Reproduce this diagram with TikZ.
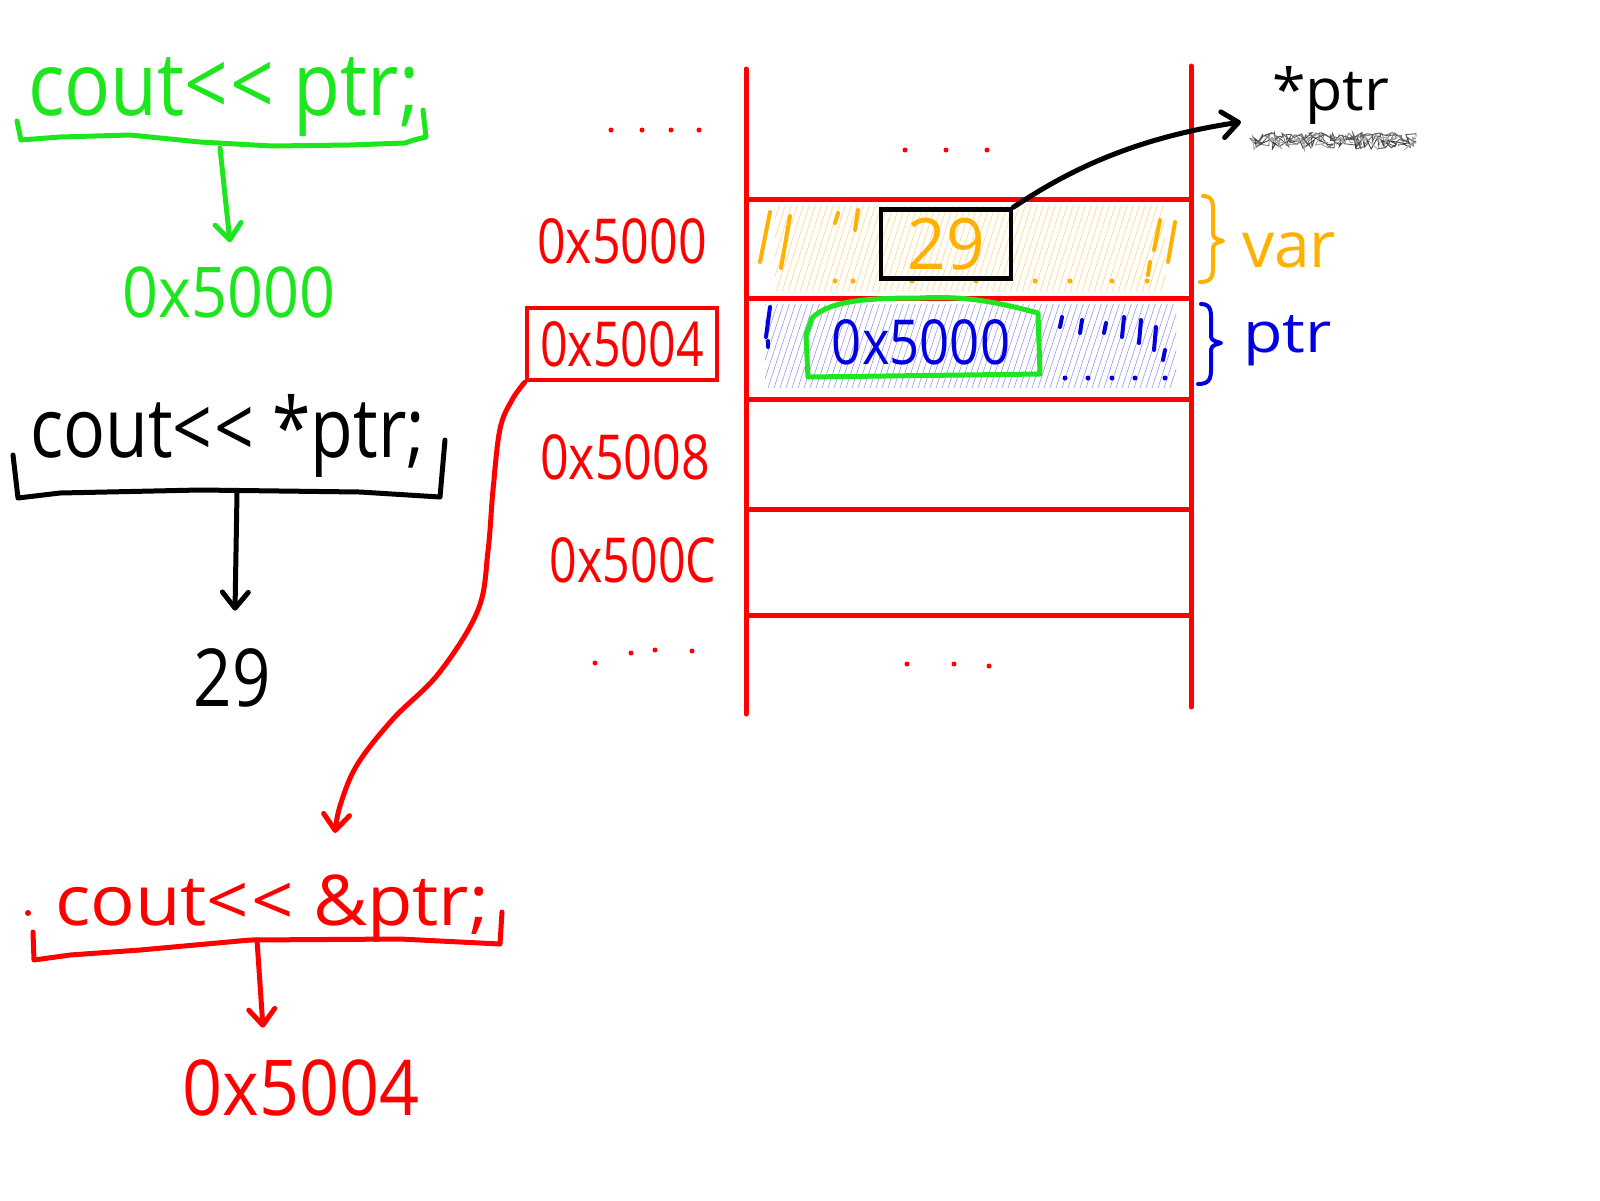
\documentclass[tikz,border=0pt]{standalone}
\usepackage{fontspec}
\setmainfont{Open Sans}
\usetikzlibrary{arrows.meta,calc,decorations.pathmorphing}
\definecolor{hgreen}{RGB}{30,230,30}
\definecolor{hred}{RGB}{255,0,0}
\definecolor{horange}{RGB}{255,176,0}
\definecolor{hblue}{RGB}{0,0,225}
\definecolor{hgray}{RGB}{90,90,90}
\newcommand{\hx}[2]{\scalebox{#1}[1]{#2}}
\newcommand{\fsz}[1]{\fontsize{#1}{#1}\selectfont}
\tikzset{
  pen/.style={line width=5pt, line cap=round, line join=round},
  thinpen/.style={line width=4pt, line cap=round, line join=round},
  harrow/.style={pen, -{Straight Barb[length=16pt,width=26pt,round]}},
  txt/.style={inner sep=0pt, outer sep=0pt},
  hatch/.style={line width=0.6pt},
}
\begin{document}
\begin{tikzpicture}[x=1pt,y=-1pt]
\fill[white] (0,0) rectangle (1600,1200);
\useasboundingbox (0,0) rectangle (1600,1200);

% ---------- green block ----------
\node[txt, text=hgreen, font=\fsz{88}, anchor=base west] (gcode) at (28,115) {\hx{0.87}{cout<\kern2pt< ptr;}};
\draw[pen, hgreen] (17,121) -- (21,140) -- (60,137) -- (130,135) -- (200,142) -- (272,146) -- (350,145) -- (405,143) -- (414,140) -- (426,137) -- (423,110);
\coordinate (gbr) at (220,148);
\node[txt, text=hgreen, font=\fsz{70}] (gres) at (229,292) {\hx{0.9}{0x5000}};
\draw[harrow, hgreen] (gbr) -- ($(gres.north)+(1,-24)$);

% ---------- black block ----------
\node[txt, font=\fsz{83}, anchor=base west] (bcode) at (30,457) {\hx{0.84}{cout<\kern2pt< *ptr;}};
\draw[pen] (13,455) -- (18,498) -- (60,493) -- (200,490) -- (360,492) -- (440,497) -- (445,440);
\coordinate (bbr) at (237,493);
\node[txt, font=\fsz{80}] (bres) at (232,678) {\hx{0.84}{29}};
\draw[harrow] (bbr) -- ($(bres.north)+(3,-38)$);

% ---------- red block ----------
\fill[hred] (28,913) circle (3);
\node[txt, text=hred, font=\fsz{70}, anchor=base west] (rcode) at (55,925) {\hx{1.06}{cout<\kern2pt< \&ptr;}};
\draw[pen, hred] (33,932) -- (34,960) -- (70,955) -- (140,950) -- (250,940) -- (400,939) -- (500,944) -- (502,912);
\coordinate (rbr) at (257,940);
\node[txt, text=hred, font=\fsz{77}] (rres) at (301,1088) {\hx{0.91}{0x5004}};
\draw[harrow, hred] (rbr) -- ($(rres.north)+(-38,-32)$);
\coordinate (rtop) at (335,833);

% ---------- row hatching ----------
\begin{scope}
\clip (775,205) rectangle (1165,290);
\foreach \x in {740,746,...,1170} \draw[horange!50, hatch] (\x,292) -- (\x+28,203);
\end{scope}
\draw[thinpen, horange] (770,212) -- (760,262);
\draw[thinpen, horange] (790,216) -- (781,268);
\draw[thinpen, horange] (838,213) -- (835,223);
\draw[thinpen, horange] (858,210) -- (855,230);
\foreach \x in {835,853,912,976,1035,1070,1112,1147} \fill[horange] (\x,281) circle (2.5);
\draw[thinpen, horange] (1160,220) -- (1154,250);
\draw[thinpen, horange] (1175,222) -- (1168,262);
\draw[thinpen, horange] (1150,262) -- (1148,275);

\begin{scope}
\clip (765,304) rectangle (1176,387);
\foreach \x in {720,726,...,1180} \draw[hblue!40, hatch] (\x,388) -- (\x+28,302);
\end{scope}
\draw[thinpen, hblue] (770,307) -- (766,337);
\draw[thinpen, hblue] (768,341) -- (768,347);
\foreach \x/\a/\b in {1062/317/327,1082/320/333,1106/323/333,1124/317/337,1141/320/343,1156/327/350,1165/350/360}
  \draw[thinpen, hblue] (\x,\a) -- (\x-2,\b);
\foreach \x in {1065,1088,1112,1135,1165} \fill[hblue] (\x,378) circle (2.5);

% ---------- memory table ----------
\draw[pen, hred] (746,69) -- (746,714);
\draw[pen, hred] (1191,66) -- (1191,707);
\foreach \y in {199,298,399,509,615} \draw[pen, hred] (748,\y) -- (1189,\y);

\foreach \x in {611,642,671,699} \fill[hred] (\x,130) circle (2.5);
\foreach \x in {905,946,987} \fill[hred] (\x,150) circle (2.5);
\foreach \x/\y in {595/663,631/653,655/650,692/651} \fill[hred] (\x,\y) circle (2.5);
\foreach \x/\y in {907/664,954/664,989/666} \fill[hred] (\x,\y) circle (2.5);

% addresses
\node[txt, text=hred, font=\fsz{62}] (a0) at (622,241) {\hx{0.81}{0x5000}};
\node[text=hred, font=\fsz{62}, draw=hred, line width=4.5pt, inner sep=0pt, minimum width=190pt, minimum height=72pt] (a4) at (622,344) {\hx{0.78}{0x5004}};
\node[txt, text=hred, font=\fsz{62}] (a8) at (625,457) {\hx{0.81}{0x5008}};
\node[txt, text=hred, font=\fsz{62}] (aC) at (633,560) {\hx{0.78}{0x500C}};

% row contents
\node[text=horange, font=\fsz{71}, draw=black, line width=4.5pt, inner sep=0pt, minimum width=130pt, minimum height=69pt] (box29) at (946,244) {\hx{0.95}{29}};
\draw[pen, hgreen] (808,377) -- (1040,374) -- (1038,313) .. controls (990,300) and (960,296) .. (920,298) .. controls (870,298) and (830,300) .. (812,318) -- (806,335) -- cycle;
\node[txt, text=hblue, font=\fsz{62}] (pval) at (921,342) {\hx{0.85}{0x5000}};

% braces and names
\draw[thinpen, horange] (1203,196) .. controls (1214,196) and (1213,205) .. (1213,215) -- (1213,230) .. controls (1213,238) .. (1223,241) .. controls (1213,244) .. (1213,252) -- (1213,268) .. controls (1213,278) and (1210,282) .. (1200,282);
\node[txt, text=horange, font=\fsz{64}, anchor=base west] (vname) at (1242,267) {var};
\draw[thinpen, hblue] (1201,304) .. controls (1212,304) and (1211,313) .. (1211,322) -- (1211,333) .. controls (1211,340) .. (1221,343) .. controls (1211,346) .. (1211,354) -- (1211,370) .. controls (1211,380) and (1208,384) .. (1198,384);
\node[txt, text=hblue, font=\fsz{56}, anchor=base west] (pname) at (1243,352) {\hx{1.15}{ptr}};

% *ptr
\node[txt, font=\fsz{58}, anchor=base west] (sptr) at (1272,110) {\hx{1.05}{*ptr}};
\pgfmathsetseed{7}
\foreach \c/\a/\yy in {hgray/8/141, gray/7/139, black!75/6/143, gray!70/8/142, hgray/5/137}
  \draw[\c, line width=0.9pt, decorate, decoration={random steps, segment length=3pt, amplitude=\a pt}] (1253,\yy) -- (1416,\yy);
\coordinate (tipp) at (1241,122);
\draw[harrow] (box29.north east) .. controls (1055,180) and (1120,140) .. (tipp);

% red connector
\draw[harrow, hred] plot[smooth, tension=0.6] coordinates {(a4.south west) (512,400) (500,429) (493,490) (488,551) (478,610) (439,673) (393,719) (357,765) (340,806) (rtop)};
\end{tikzpicture}
\end{document}
